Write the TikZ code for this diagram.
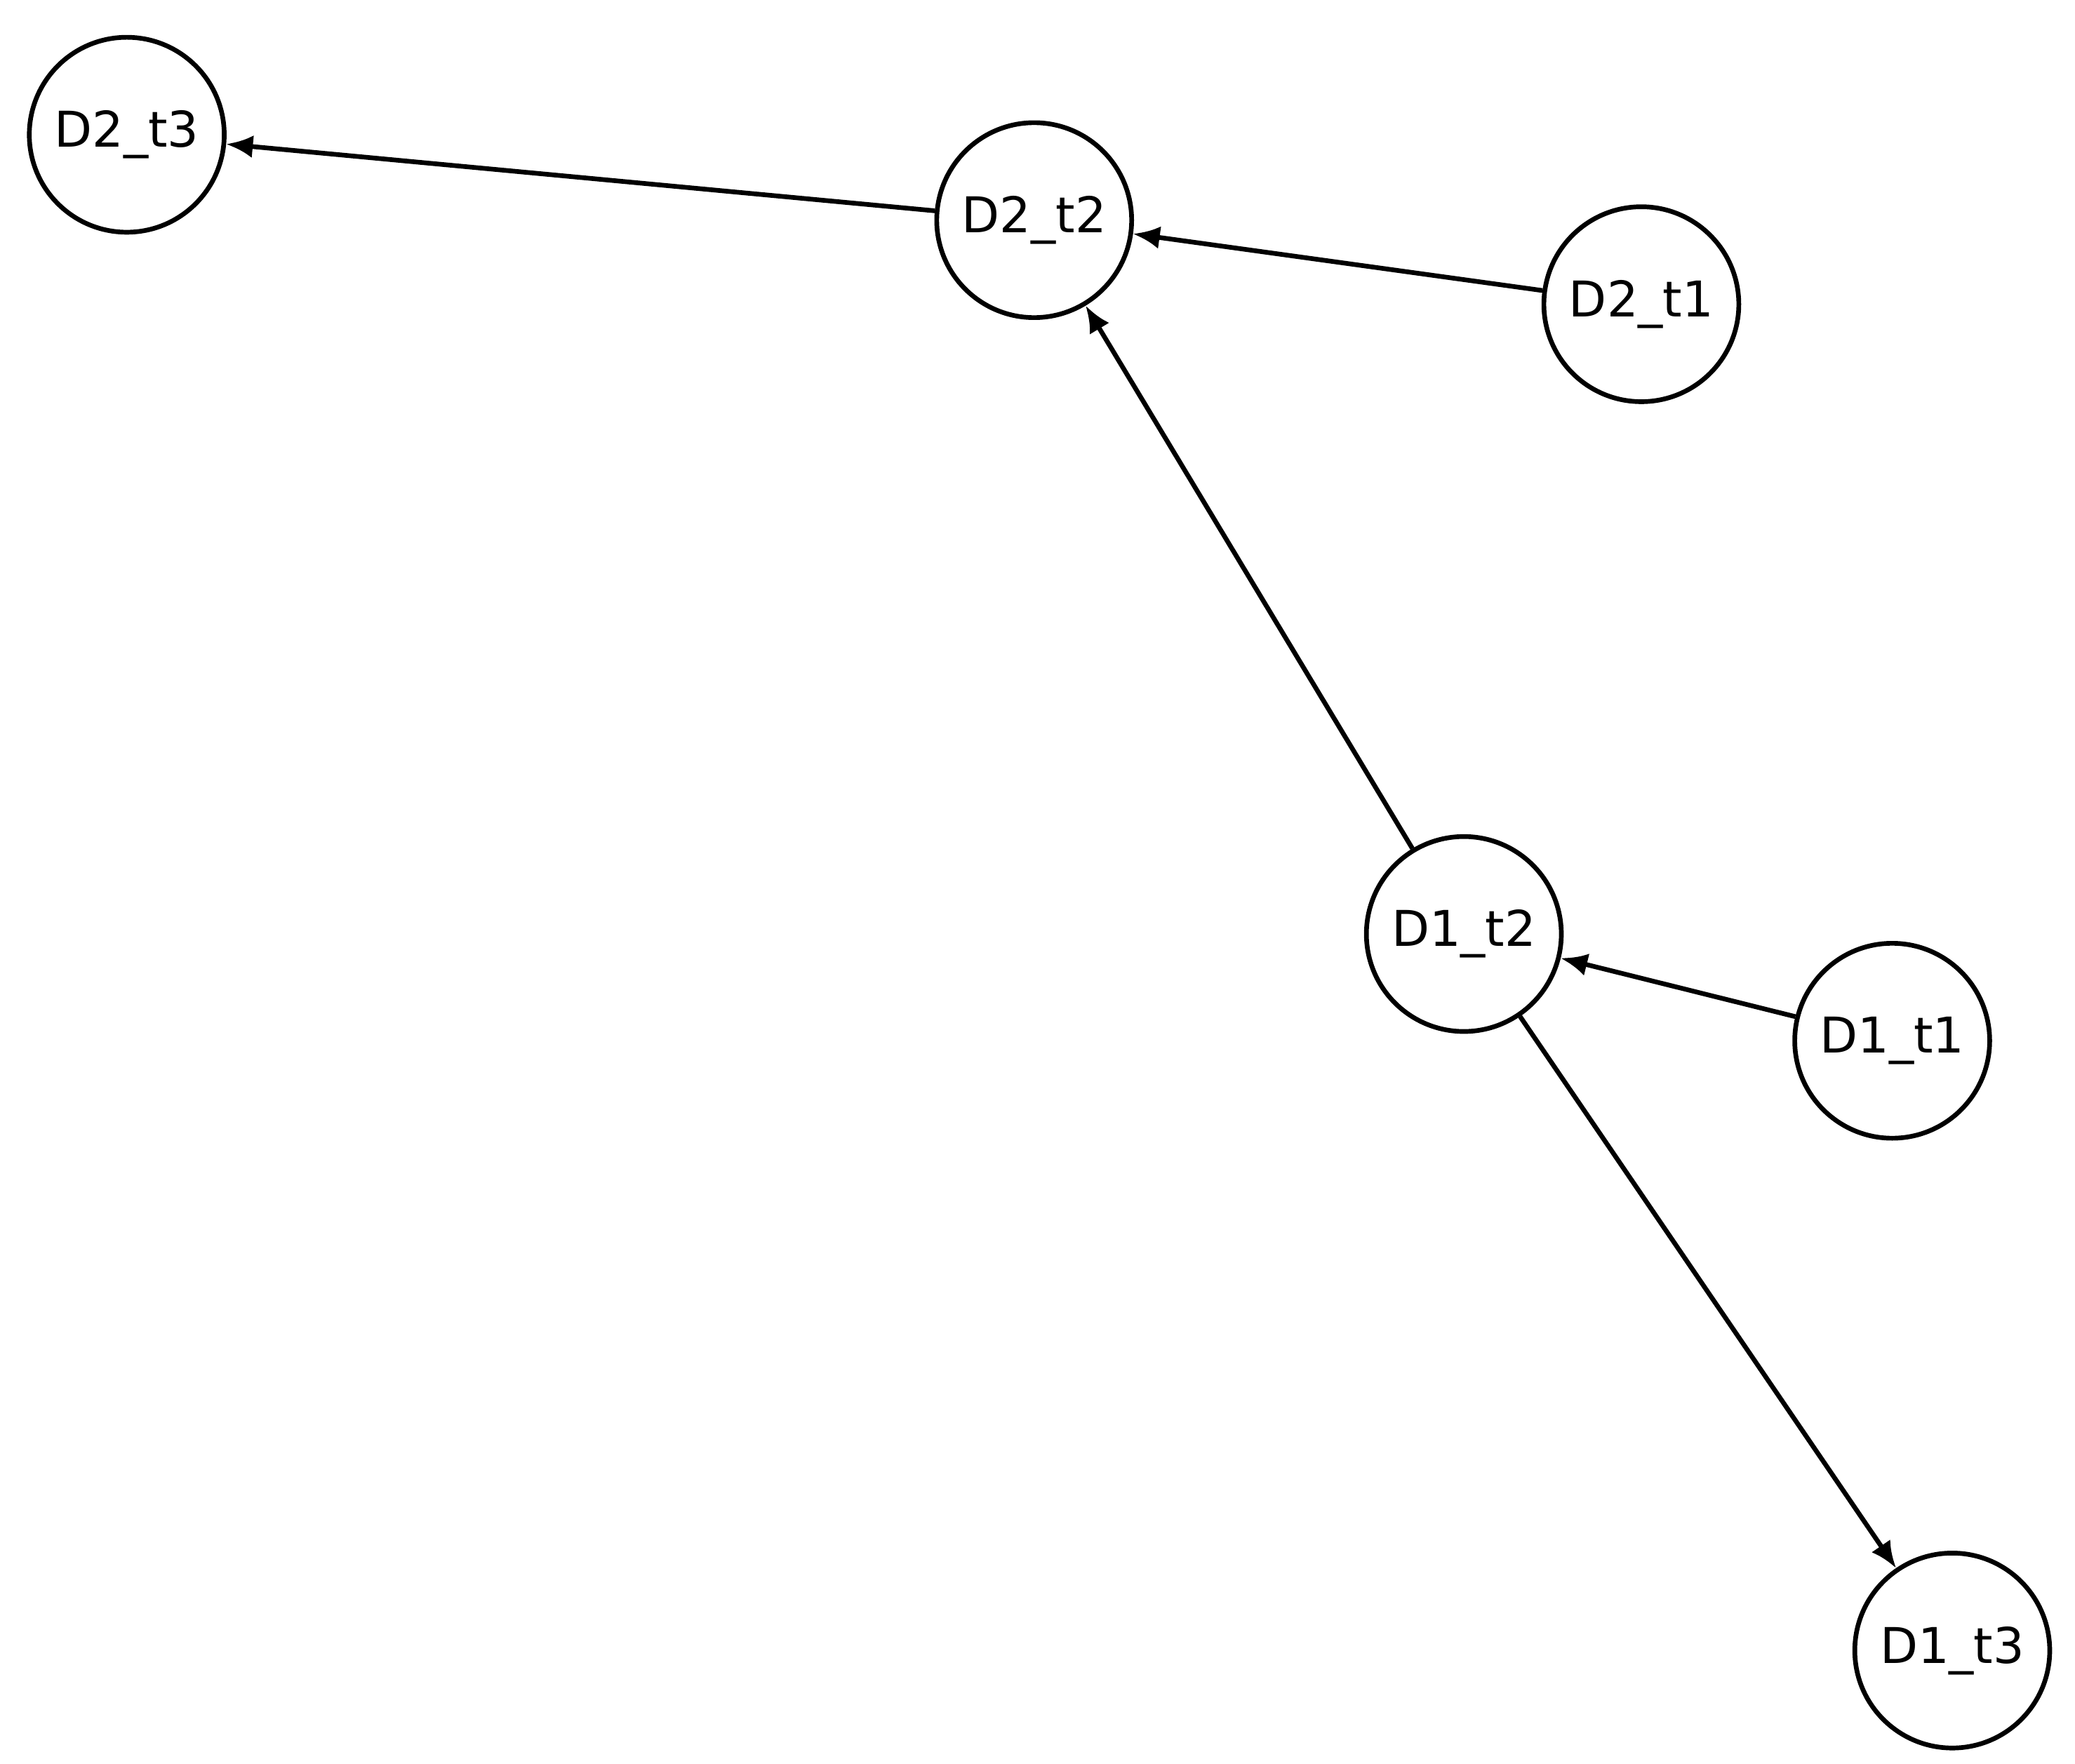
\documentclass[tikz,border=0pt]{standalone}
\usepackage{fontspec}
\setmainfont{DejaVu Sans}
\usetikzlibrary{arrows.meta}
\begin{document}
\begin{tikzpicture}[x=0.01cm,y=-0.01cm,
  nd/.style={circle,draw,line width=1pt,minimum size=1.46cm,inner sep=0pt,font=\fontsize{10.5}{12}\selectfont},
  ar/.style={line width=1pt,-{Latex[length=0.2cm,width=0.17cm]}}]
\useasboundingbox (0,0) rectangle (1555,1322);
\node[nd] (d23) at (95,101) {D2\_t3};
\node[nd] (d22) at (775,165) {D2\_t2};
\node[nd] (d21) at (1230,228) {D2\_t1};
\node[nd] (d12) at (1097,700) {D1\_t2};
\node[nd] (d11) at (1418,780) {D1\_t1};
\node[nd] (d13) at (1463,1237) {D1\_t3};
\draw[ar] (d22) -- (d23);
\draw[ar] (d21) -- (d22);
\draw[ar] (d12) -- (d22);
\draw[ar] (d11) -- (d12);
\draw[ar] (d12) -- (d13);
\end{tikzpicture}
\end{document}
